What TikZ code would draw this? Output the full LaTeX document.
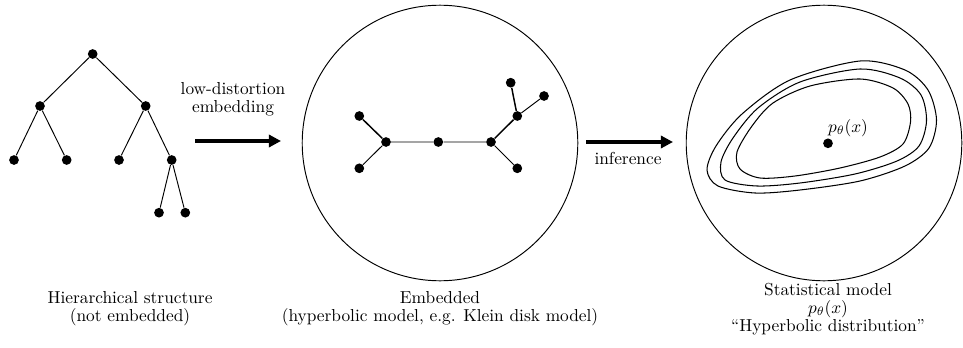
\documentclass[tikz,border=0pt]{standalone}
\usetikzlibrary{arrows.meta}
\begin{document}
\begin{tikzpicture}[x=0.577pt,y=-0.577pt,
  every node/.style={font=\fontsize{10}{10.4}\selectfont},
  dot/.style={circle,fill=black,inner sep=0pt,minimum size=5.6pt},
  disk/.style={circle,draw,line width=0.55pt,inner sep=0pt,minimum size=159pt},
  edge/.style={line width=0.55pt},
  thickedge/.style={line width=0.85pt},
  bigarrow/.style={line width=1.8pt,-{Triangle[length=7pt,width=7pt]}},
  lab/.style={align=center,inner sep=0pt},
  contour/.style={line width=0.6pt}]
\useasboundingbox (0,0) rectangle (963,347);

% tree
\node[dot] (r) at (92.7,54) {};
\node[dot] (a) at (40,106) {};
\node[dot] (b) at (145.7,106) {};
\node[dot] (a1) at (14,160) {};
\node[dot] (a2) at (66.7,160) {};
\node[dot] (b1) at (119,160) {};
\node[dot] (b2) at (171.7,160) {};
\node[dot] (c1) at (159,212.7) {};
\node[dot] (c2) at (185.3,212.7) {};
\draw[edge] (r) -- (a) (r) -- (b) (a) -- (a1) (a) -- (a2) (b) -- (b1) (b) -- (b2) (b2) -- (c1) (b2) -- (c2);

% arrow 1
\coordinate (s1) at (195,141);
\coordinate (e1) at (281,141);
\draw[bigarrow] (s1) -- (e1);
\node[lab] (l1) at (233,99) {low-distortion\\embedding};

% disk 1
\node[disk] (d1) at (440,143) {};
\node[dot] (lt) at (359.3,116) {};
\node[dot] (lb) at (359.3,168.3) {};
\node[dot] (lh) at (386,142) {};
\node[dot] (cc) at (438.3,142) {};
\node[dot] (rh) at (491,142) {};
\node[dot] (rb) at (517.3,168.3) {};
\node[dot] (ru) at (517.3,116) {};
\node[dot] (tl) at (510.7,82.7) {};
\node[dot] (rl) at (544,96) {};
\draw[thickedge] (lt) -- (lh);
\draw[edge] (lb) -- (lh) (lh) -- (cc) (cc) -- (rh) (rh) -- (rb) (ru) -- (rl);
\draw[thickedge] (rh) -- (ru) (ru) -- (tl);

% arrow 2
\coordinate (s2) at (586,142);
\coordinate (e2) at (673,142);
\draw[bigarrow] (s2) -- (e2);
\node[lab] (l2) at (628,158) {inference};

% disk 2
\node[disk] (d2) at (824,143) {};
\draw[contour] plot[smooth cycle] coordinates {(860,61) (905,70) (928,90) (936.5,120) (929,148) (905,166) (860,181) (800,190) (755,193) (718,186) (707,170) (716,146) (742,114) (790,80)};
\draw[contour] plot[smooth cycle] coordinates {(860,69) (900,78) (921,95) (926.5,121) (919,146) (897,161) (855,174) (800,183) (757,186) (725,180) (721,162) (733,138) (758,108) (800,82)};
\draw[contour] plot[smooth cycle] coordinates {(860,79) (893,88) (908,104) (910.5,122) (903,144) (880,157) (840,168) (795,176) (760,178) (740,169) (737,152) (752,126) (773,103) (810,86)};
\node[dot] (p) at (828,143.3) {};
\node[lab] (pl) at (848,128) {$p_\theta(x)$};

% bottom labels
\node[lab] (t1) at (130,309) {Hierarchical structure\\(not embedded)};
\node[lab] (t2) at (440,309) {Embedded\\(hyperbolic model, e.g. Klein disk model)};
\node[lab] (t3) at (828,309) {Statistical model\\$p_\theta(x)$\\``Hyperbolic distribution''};
\end{tikzpicture}
\end{document}
